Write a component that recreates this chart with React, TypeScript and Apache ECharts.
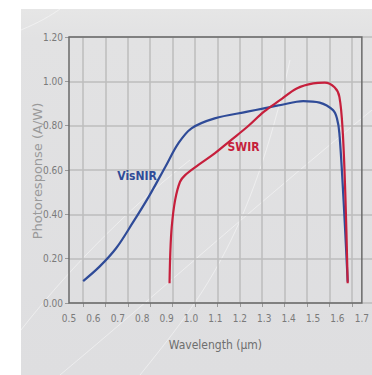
import React, { useEffect, useRef } from "react";
import * as echarts from "echarts";

const xTickLabels = ["0.5", "0.6", "0.7", "0.8", "0.9", "1.0", "1.1", "1.2", "1.3", "1.4", "1.5", "1.6", "1.7"];
const yTickLabels = ["0.00", "0.20", "0.40", "0.60", "0.80", "1.00", "1.20"];

const visnirX = [0.558, 0.625, 0.693, 0.76, 0.827, 0.895, 0.948, 1.002, 1.097, 1.231, 1.299, 1.433, 1.46, 1.527, 1.582, 1.598, 1.608, 1.625, 1.642];
const visnirY = [0.099, 0.164, 0.247, 0.36, 0.48, 0.615, 0.72, 0.788, 0.833, 0.863, 0.878, 0.908, 0.911, 0.904, 0.87, 0.833, 0.765, 0.465, 0.096];

const swirX = [0.912, 0.915, 0.921, 0.935, 0.955, 0.976, 1.029, 1.097, 1.164, 1.231, 1.299, 1.366, 1.433, 1.501, 1.548, 1.588, 1.608, 1.622, 1.633, 1.642];
const swirY = [0.089, 0.224, 0.344, 0.465, 0.547, 0.577, 0.622, 0.675, 0.735, 0.795, 0.863, 0.916, 0.968, 0.991, 0.994, 0.973, 0.93, 0.765, 0.465, 0.089];

const seriesNames = ["VisNIR", "SWIR"];
const labelPos = [[0.779, 0.573], [1.215, 0.704]];
const colors = ["#2f4b98", "#c61f3c"];

const narrow = "'DejaVu Sans Condensed', 'Liberation Sans Narrow', Roboto, sans-serif";

export default function App() {
  const ref = useRef<HTMLDivElement>(null);
  useEffect(() => {
    if (!ref.current) return;
    const chart = echarts.init(ref.current, null, { renderer: "svg" });
    const top = 37, height = 266, left = 69, width = 297;
    const mk = (xs: number[], ys: number[]) => xs.map((x, i) => [x, ys[i]]);
    const arc = (x1: number, y1: number, cx1: number, cy1: number, cx2: number, cy2: number, x2: number, y2: number) => ({
      type: "bezierCurve",
      z: -9,
      silent: true,
      shape: { x1, y1, cpx1: cx1, cpy1: cy1, cpx2: cx2, cpy2: cy2, x2, y2 },
      style: { stroke: "rgba(255,255,255,0.45)", lineWidth: 1, fill: "none" },
    });
    chart.setOption({
      animation: false,
      backgroundColor: "#ffffff",
      graphic: [
        {
          type: "rect",
          z: -10,
          silent: true,
          shape: { x: 21, y: 9, width: 351, height: 366 },
          style: {
            fill: {
              type: "linear", x: 0, y: 0, x2: 0, y2: 1,
              colorStops: [
                { offset: 0, color: "#e6e6e6" },
                { offset: 0.08, color: "#e2e2e3" },
                { offset: 1, color: "#dedee0" },
              ],
            },
          },
        },
        arc(21, 330, 60, 280, 120, 215, 190, 160),
        arc(60, 375, 150, 300, 250, 210, 372, 110),
        arc(140, 375, 200, 300, 250, 240, 290, 60),
        arc(21, 30, 40, 22, 50, 16, 60, 9),
        {
          type: "text",
          silent: true,
          style: {
            text: "Photoresponse (A/W)",
            fill: "#9a9a9a",
            font: "13px 'DejaVu Sans', sans-serif",
            align: "center",
            verticalAlign: "middle",
          },
          x: 37,
          y: 171,
          rotation: Math.PI / 2,
        },
      ],
      grid: [
        { left, top, width, height, show: true, borderColor: "#6a6a6a", borderWidth: 1.5, backgroundColor: "transparent", z: 3 },
        { left: 83, top, width: 268.8, height, show: false },
        { left, top, width: 372 - left, height, show: false },
      ],
      xAxis: [
        {
          gridIndex: 0,
          type: "value",
          min: 0.5,
          max: 1.7,
          interval: 0.1,
          axisLine: { show: false },
          axisTick: { show: false },
          splitLine: { show: false },
          axisLabel: {
            color: "#7a7a7a",
            fontSize: 10,
            fontFamily: narrow,
            margin: 10,
            showMaxLabel: true,
            formatter: (v: number) => xTickLabels[Math.round((v - 0.5) * 10)] ?? "",
          },
          name: "Wavelength (\u00b5m)",
          nameLocation: "middle",
          nameGap: 36,
          nameTextStyle: { color: "#6e6e6e", fontSize: 12, fontFamily: narrow },
        },
        {
          gridIndex: 1,
          type: "value",
          min: 0,
          max: 12,
          interval: 1,
          axisLine: { show: false },
          axisTick: { show: true, inside: false, length: 4, lineStyle: { color: "#9a9a9a", width: 1 } },
          axisLabel: { show: false },
          splitLine: { show: true, showMinLine: true, showMaxLine: true, lineStyle: { color: "#bdbdbd", width: 1.5 } },
        },
        {
          gridIndex: 2,
          type: "value",
          min: 0,
          max: 1,
          show: false,
          splitLine: { show: false },
        },
      ],
      yAxis: [
        {
          gridIndex: 0,
          type: "value",
          min: 0,
          max: 1.2,
          interval: 0.2,
          axisLine: { show: false },
          axisTick: { show: true, length: 4, lineStyle: { color: "#9a9a9a" } },
          splitLine: { show: false },
          axisLabel: {
            color: "#7a7a7a",
            fontSize: 10,
            fontFamily: narrow,
            margin: 6,
            formatter: (v: number) => yTickLabels[Math.round(v / 0.2)] ?? "",
          },
        },
        {
          gridIndex: 1,
          type: "value",
          min: 0,
          max: 1.2,
          axisLine: { show: false },
          axisTick: { show: false },
          axisLabel: { show: false },
          splitLine: { show: false },
        },
        {
          gridIndex: 2,
          type: "value",
          min: 0,
          max: 1.2,
          interval: 0.2,
          axisLine: { show: false },
          axisTick: { show: false },
          axisLabel: { show: false },
          splitLine: { show: true, lineStyle: { color: "#bdbdbd", width: 1.5 } },
        },
      ],
      series: [
        [visnirX, visnirY],
        [swirX, swirY],
      ].map(([xs, ys], i) => ({
        type: "line",
        name: seriesNames[i],
        xAxisIndex: 0,
        yAxisIndex: 0,
        data: mk(xs, ys),
        smooth: 0.35,
        showSymbol: false,
        z: 5,
        lineStyle: { color: colors[i], width: 2.2 },
        markPoint: {
          symbolSize: 0,
          data: [
            {
              coord: labelPos[i],
              label: {
                show: true,
                formatter: seriesNames[i],
                color: colors[i],
                fontSize: 12,
                fontWeight: "bold",
                fontFamily: narrow,
                position: "inside",
              },
            },
          ],
        },
      })),
    });
    return () => chart.dispose();
  }, []);
  return <div ref={ref} style={{ position: "fixed", left: 0, top: 0, width: 372, height: 375 }} />;
}
